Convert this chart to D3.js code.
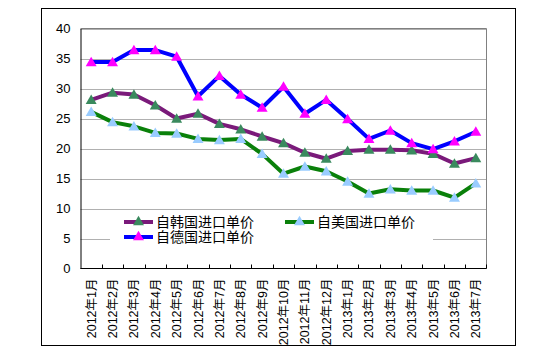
<!DOCTYPE html>
<html><head><meta charset="utf-8">
<script src="https://cdn.jsdelivr.net/npm/d3@7"></script>
<style>body{margin:0;background:#fff;}svg{display:block;}</style>
</head><body>
<svg id="c" width="553" height="354"></svg>
<script>
const categories = ["2012年1月","2012年2月","2012年3月","2012年4月","2012年5月","2012年6月","2012年7月","2012年8月","2012年9月","2012年10月","2012年11月","2012年12月","2013年1月","2013年2月","2013年3月","2013年4月","2013年5月","2013年6月","2013年7月"];
const korea = [28.1,29.3,29.0,27.2,25.0,25.8,24.1,23.2,22.0,20.9,19.3,18.3,19.6,19.8,19.8,19.7,19.1,17.5,18.4];
const germany = [34.4,34.4,36.4,36.4,35.3,28.7,32.1,29.0,26.8,30.3,25.8,28.1,24.9,21.6,23.0,20.9,19.9,21.2,22.8];
const usa = [26.1,24.4,23.7,22.6,22.5,21.6,21.4,21.6,19.1,15.8,17.0,16.2,14.5,12.5,13.2,13.0,13.0,11.8,14.2];
const yTicks = [0,5,10,15,20,25,30,35,40];
const seriesNames = ["自韩国进口单价","自德国进口单价","自美国进口单价"];

const svg = d3.select("#c");
const L=80.5, R=486.5, T=28.5, B=268.5;
const x = d3.scaleBand().domain(categories).range([L,R]);
const y = d3.scaleLinear().domain([0,40]).range([B,T]);

// outer border
svg.append("rect").attr("x",41.5).attr("y",8.5).attr("width",474).attr("height",337)
  .attr("fill","none").attr("stroke","#000").attr("stroke-width",1);

// gridlines
svg.append("g").selectAll("line").data(yTicks.filter(d=>d>0)).join("line")
  .attr("x1",L).attr("x2",R).attr("y1",d=>Math.round(y(d))+0.5).attr("y2",d=>Math.round(y(d))+0.5)
  .attr("stroke","#b0b0b0").attr("stroke-width",1);
// plot border top/right gray
svg.append("path").attr("d",`M${L},${T}H${R}V${B}`).attr("fill","none").attr("stroke","#808080");

// y axis
const yAxis = d3.axisLeft(y).tickValues(yTicks).tickSize(0).tickPadding(10);
const gy = svg.append("g").attr("transform",`translate(${L},0)`).call(yAxis);
gy.select(".domain").attr("stroke","#000");
gy.selectAll("text").attr("font-family","Liberation Sans, Arial, sans-serif").attr("font-size",13).attr("fill","#000");

// x axis
const gx = svg.append("g").attr("transform",`translate(0,${B})`);
gx.append("line").attr("x1",L).attr("x2",R).attr("y1",0).attr("y2",0).attr("stroke","#000");
gx.selectAll("line.tk").data(categories.slice(1)).join("line").attr("class","tk")
  .attr("x1",d=>Math.round(x(d))+0.5).attr("x2",d=>Math.round(x(d))+0.5).attr("y1",0).attr("y2",-4).attr("stroke","#000");
gx.append("line").attr("x1",R).attr("x2",R).attr("y1",0).attr("y2",-4).attr("stroke","#000");
gx.selectAll("text").data(categories).join("text")
  .attr("transform",d=>`translate(${x(d)+x.bandwidth()/2+4.5},10) rotate(-90)`)
  .attr("text-anchor","end")
  .attr("font-family","Liberation Sans, 'Noto Sans CJK SC', sans-serif").attr("font-size",12.5).attr("fill","#000")
  .text(d=>d);

// legend background
svg.append("rect").attr("x",110).attr("y",212).attr("width",323).attr("height",34).attr("fill","#fff");

const series = [
  {name:seriesNames[0], data:korea, line:"#7a1a7a", marker:"#3a8a5e"},
  {name:seriesNames[1], data:germany, line:"#0000ff", marker:"#ff00ff"},
  {name:seriesNames[2], data:usa, line:"#0a800a", marker:"#99ccff"}
];
const cx = d=>x(d)+x.bandwidth()/2;
const tri = d3.symbol().type(d3.symbolTriangle).size(52);
const lineGen = d3.line().x((d,i)=>cx(categories[i])).y(d=>y(d));

// draw lines in order: usa, korea, germany
[series[2],series[0],series[1]].forEach(s=>{
  svg.append("path").attr("d",lineGen(s.data)).attr("fill","none").attr("stroke",s.line).attr("stroke-width",4).attr("stroke-linejoin","round");
  svg.append("g").selectAll("path").data(s.data).join("path")
    .attr("d",tri).attr("transform",(d,i)=>`translate(${cx(categories[i])},${y(d)+1})`)
    .attr("fill",s.marker);
});

// legend
const leg = [
  {s:series[0], x:124, y:222},
  {s:series[1], x:124, y:237},
  {s:series[2], x:285, y:222}
];
leg.forEach(l=>{
  const g = svg.append("g");
  g.append("line").attr("x1",l.x).attr("x2",l.x+29).attr("y1",l.y).attr("y2",l.y).attr("stroke",l.s.line).attr("stroke-width",4);
  g.append("path").attr("d",tri).attr("transform",`translate(${l.x+14.5},${l.y})`).attr("fill",l.s.marker);
  g.append("text").attr("x",l.x+32).attr("y",l.y+5).attr("font-family","'Noto Sans CJK SC', sans-serif")
    .attr("font-size",14).attr("fill","#000").text(l.s.name);
});
</script>
</body></html>
